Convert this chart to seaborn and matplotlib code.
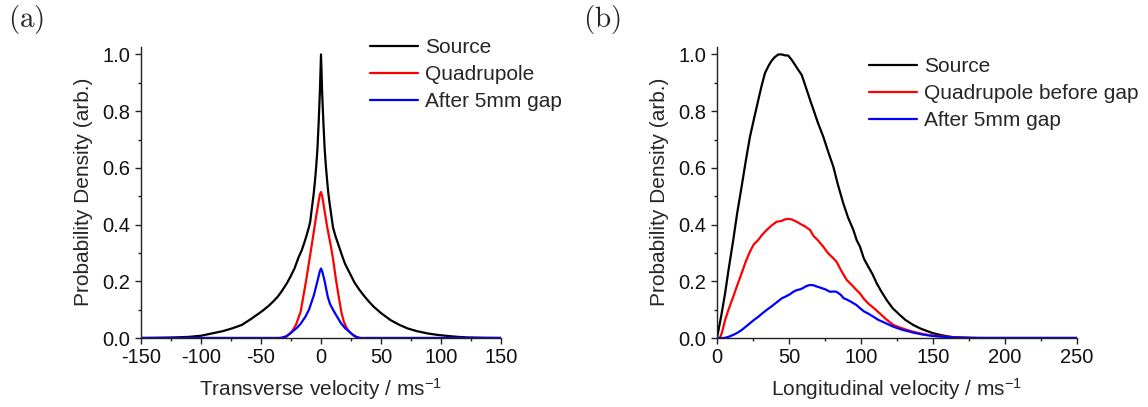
import matplotlib
matplotlib.use("Agg")
import matplotlib.pyplot as plt
import seaborn as sns
import numpy as np
import pandas as pd
from matplotlib.ticker import MultipleLocator

# ---------------- data: panel (a) transverse ----------------
trans_source_v = [-150, -135, -122, -110, -100, -91, -82, -74, -66, -58, -49, -44, -40, -36,
                  -32.7, -28, -25, -22, -18.75, -16, -14, -12, -10, -9, -8, -7, -6, -5, -4,
                  -3, -2, -1, 0, 1, 2, 3, 4, 5, 6, 7, 8, 9, 10, 12, 14, 16, 18, 20, 22, 25,
                  28, 32, 36, 40, 44, 50, 58, 65, 72, 80, 89, 97, 106, 114, 122, 135, 150]
trans_source_y = [0.0, 0.0008, 0.002, 0.004, 0.008, 0.016, 0.024, 0.034, 0.046, 0.068, 0.095,
                  0.112, 0.128, 0.146, 0.165, 0.196, 0.22, 0.246, 0.284, 0.31, 0.335, 0.362,
                  0.392, 0.41, 0.445, 0.478, 0.512, 0.555, 0.605, 0.665, 0.755, 0.86, 1.0,
                  0.86, 0.76, 0.67, 0.61, 0.56, 0.515, 0.48, 0.45, 0.42, 0.39, 0.36, 0.335,
                  0.31, 0.285, 0.262, 0.245, 0.22, 0.195, 0.17, 0.148, 0.128, 0.11, 0.088,
                  0.063, 0.047, 0.034, 0.024, 0.016, 0.011, 0.007, 0.004, 0.002, 0.0007, 0.0]

trans_quad_v = [-150, -32, -29, -25, -21, -17, -12.5, -8, -4, -2, -1, 0, 1, 2, 3.3, 5, 8.3,
                10, 12.5, 15, 17.2, 19, 20.8, 23, 25, 27, 29, 32, 150]
trans_quad_y = [0.0, 0.0, 0.004, 0.018, 0.045, 0.092, 0.2, 0.32, 0.43, 0.48, 0.505, 0.515,
                0.5, 0.475, 0.44, 0.395, 0.322, 0.28, 0.205, 0.14, 0.087, 0.058, 0.04, 0.025,
                0.017, 0.009, 0.004, 0.0, 0.0]

trans_gap_v = [-150, -35, -33, -29, -24, -20, -17, -13, -10, -6, -3, -1, 0, 1, 2.8, 5.6,
               7.5, 10, 12, 16.7, 20, 23.6, 26, 29, 31, 33, 150]
trans_gap_y = [0.0, 0.0, 0.001, 0.006, 0.022, 0.036, 0.05, 0.075, 0.1, 0.15, 0.2, 0.235,
               0.245, 0.235, 0.205, 0.146, 0.12, 0.1, 0.085, 0.052, 0.035, 0.022, 0.013,
               0.005, 0.002, 0.0, 0.0]

# ---------------- data: panel (b) longitudinal ----------------
long_source_v = [0, 3, 5.6, 8, 11.3, 14, 17.1, 20, 22.9, 26, 28.7, 31, 33.3, 36, 38, 40,
                 42.6, 45, 47, 49.5, 52, 54.2, 56.5, 58.8, 61, 64.6, 68, 70, 73.8, 77,
                 80.8, 84, 87.7, 91, 94.7, 97, 99.3, 102, 105, 108, 110.9, 114, 117.8, 122,
                 127, 131, 136.3, 141, 145.6, 150, 154.9, 160, 164, 170, 175, 185, 250]
long_source_y = [0.0, 0.08, 0.157, 0.24, 0.346, 0.44, 0.534, 0.625, 0.71, 0.78, 0.84, 0.89,
                 0.934, 0.962, 0.978, 0.99, 1.0, 1.0, 0.997, 0.996, 0.98, 0.963, 0.945,
                 0.928, 0.895, 0.84, 0.79, 0.76, 0.71, 0.66, 0.604, 0.54, 0.475, 0.425,
                 0.381, 0.345, 0.322, 0.28, 0.252, 0.225, 0.193, 0.165, 0.134, 0.105,
                 0.081, 0.063, 0.046, 0.034, 0.025, 0.017, 0.011, 0.006, 0.003, 0.0015,
                 0.0005, 0.0, 0.0]

long_quad_v = [0, 2, 3.5, 5.6, 8, 11.3, 14, 17.1, 20, 22.9, 25.5, 28.7, 31, 34.5, 38,
               41.4, 44.9, 47, 49.5, 52, 55.3, 58, 61, 64.6, 67, 70, 73.8, 77, 80, 83, 86,
               90, 93, 96.9, 99.3, 102, 105, 109, 113, 117, 122.4, 127, 131, 136.3, 143,
               150, 160, 170, 180, 250]
long_quad_y = [0.0, 0.0, 0.02, 0.063, 0.1, 0.146, 0.185, 0.228, 0.27, 0.305, 0.33, 0.346,
               0.362, 0.381, 0.397, 0.41, 0.413, 0.418, 0.42, 0.418, 0.41, 0.402, 0.394,
               0.381, 0.36, 0.345, 0.322, 0.3, 0.285, 0.269, 0.24, 0.205, 0.19, 0.169,
               0.157, 0.138, 0.122, 0.105, 0.087, 0.068, 0.046, 0.037, 0.03, 0.022, 0.014,
               0.008, 0.004, 0.001, 0.0, 0.0]

long_gap_v = [0, 5, 8, 11.3, 14, 17.1, 20, 22.9, 25.5, 28.7, 31, 34.5, 38, 41.5, 45, 48,
              50.9, 53, 55.5, 58, 60, 62, 64.6, 67, 69, 71.5, 75, 78.5, 81, 83, 86, 88, 90,
              93, 96.9, 99.3, 102, 105, 108.6, 112, 116, 122.4, 128, 136.3, 143, 150, 160,
              170, 180, 250]
long_gap_y = [0.0, 0.0, 0.004, 0.011, 0.018, 0.028, 0.04, 0.052, 0.063, 0.075, 0.085,
              0.099, 0.112, 0.126, 0.14, 0.147, 0.155, 0.163, 0.169, 0.172, 0.177, 0.183,
              0.187, 0.186, 0.182, 0.178, 0.172, 0.163, 0.164, 0.163, 0.152, 0.14, 0.136,
              0.128, 0.116, 0.105, 0.094, 0.086, 0.075, 0.064, 0.055, 0.04, 0.03, 0.019,
              0.012, 0.007, 0.003, 0.001, 0.0, 0.0]

labels_a = ["Source", "Quadrupole", "After 5mm gap"]
labels_b = ["Source", "Quadrupole before gap", "After 5mm gap"]
colors = ["#000000", "#ff0000", "#0000ff"]

# ---------------- style ----------------
sns.set_theme(style="ticks")
plt.rcParams["font.family"] = ["Liberation Sans", "DejaVu Sans"]
plt.rcParams["mathtext.default"] = "regular"
plt.rcParams["axes.unicode_minus"] = False
FS = 14.5
AFS = 15
LFS = 15
edge = "#222222"
plt.rcParams.update({
    "axes.edgecolor": edge, "axes.linewidth": 1.0,
    "xtick.color": edge, "ytick.color": edge,
    "xtick.labelcolor": "#111111", "ytick.labelcolor": "#111111",
    "xtick.direction": "out", "ytick.direction": "out",
})

W, H = 1148, 407
fig = plt.figure(figsize=(W / 100, H / 100), dpi=100)
bottom = 1 - 338 / H
height = (338 - 46.5) / H
ax1 = fig.add_axes([141 / W, bottom, 360 / W, height])
ax2 = fig.add_axes([717 / W, bottom, 360 / W, height])

def draw(ax, vs, ys, labels):
    for v, y, lab, c in zip(vs, ys, labels, colors):
        df = pd.DataFrame({"v": v, "p": y})
        sns.lineplot(data=df, x="v", y="p", ax=ax, color=c, lw=1.6, label=lab,
                     sort=False, estimator=None)

draw(ax1, [trans_source_v, trans_quad_v, trans_gap_v],
     [trans_source_y, trans_quad_y, trans_gap_y], labels_a)
draw(ax2, [long_source_v, long_quad_v, long_gap_v],
     [long_source_y, long_quad_y, long_gap_y], labels_b)

for ax, (x0, x1), xl in [(ax1, (-150, 150), "Transverse velocity / ms$^{-1}$"),
                         (ax2, (0, 250), "Longitudinal velocity / ms$^{-1}$")]:
    ax.set_xlim(x0, x1)
    ax.set_ylim(0, 1.028)
    ax.xaxis.set_major_locator(MultipleLocator(50))
    ax.xaxis.set_minor_locator(MultipleLocator(25))
    ax.yaxis.set_major_locator(MultipleLocator(0.2))
    ax.yaxis.set_minor_locator(MultipleLocator(0.1))
    ax.yaxis.set_major_formatter(matplotlib.ticker.FormatStrFormatter("%.1f"))
    ax.tick_params(which="major", length=4.5, width=1.0, labelsize=FS, pad=3)
    ax.tick_params(which="minor", length=2.4, width=1.0)
    sns.despine(ax=ax)
    ax.set_xlabel(xl, fontsize=AFS, labelpad=6)
    ax.set_ylabel("Probability Density (arb.)", fontsize=AFS, labelpad=7)
    ax.get_legend().remove()

leg_kw = dict(frameon=False, fontsize=LFS, handlelength=2.3, handletextpad=0.33,
              labelspacing=0.38, borderpad=0, borderaxespad=0, loc="upper left")
h1, l1 = ax1.get_legend_handles_labels()
ax1.legend(h1, l1, bbox_to_anchor=(370 / W, 1 - 38 / H),
           bbox_transform=fig.transFigure, **leg_kw)
h2, l2 = ax2.get_legend_handles_labels()
ax2.legend(h2, l2, bbox_to_anchor=(869 / W, 1 - 57 / H),
           bbox_transform=fig.transFigure, **leg_kw)

fig.text(8 / W, 1 - 3 / H, r"$\mathrm{(a)}$", fontsize=21, math_fontfamily="cm",
         ha="left", va="top")
fig.text(583 / W, 1 - 3 / H, r"$\mathrm{(b)}$", fontsize=21, math_fontfamily="cm",
         ha="left", va="top")

fig.savefig("out.png", dpi=100)
